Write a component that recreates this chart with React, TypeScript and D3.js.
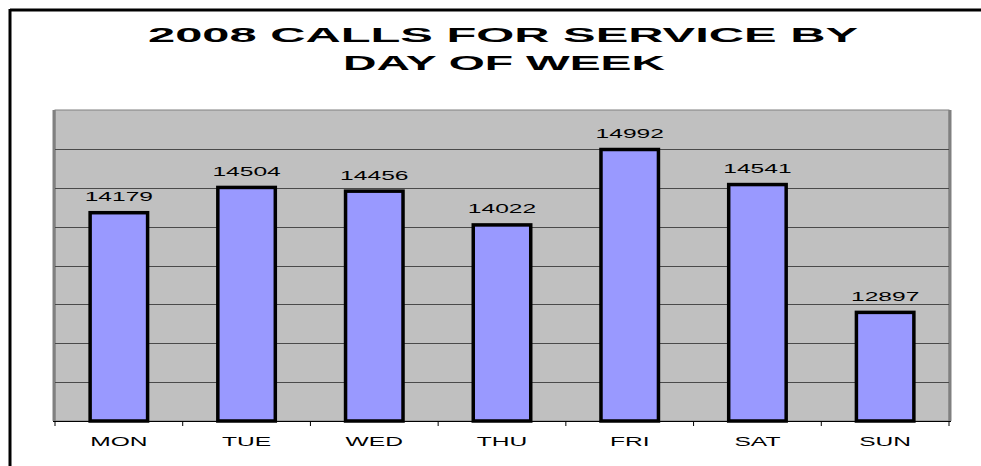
import * as d3 from "d3";

const days = ["MON", "TUE", "WED", "THU", "FRI", "SAT", "SUN"];
const calls = [14179, 14504, 14456, 14022, 14992, 14541, 12897];
const gridTicks = [11500, 12000, 12500, 13000, 13500, 14000, 14500, 15000, 15500];

const W = 981;
const H = 466;
const plot = { left: 55, top: 110, right: 949, bottom: 421 };
// the old export stretches the small labels sideways
const stretch = 2.05;

export default function App() {
  const x = d3
    .scaleBand<string>()
    .domain(days)
    .range([plot.left, plot.right])
    .paddingInner(0.55)
    .paddingOuter(0.275);

  const y = d3.scaleLinear().domain([11500, 15500]).range([plot.bottom, plot.top]);

  const step = x.step();
  const bounds = days.map((d) => (x(d) ?? 0) - (step - x.bandwidth()) / 2);
  bounds.push(plot.right);

  return (
    <svg
      width={W}
      height={H}
      style={{ position: "absolute", left: 0, top: 0, background: "#fff" }}
      fontFamily="'Liberation Sans', Arial, sans-serif"
    >
      {/* outer frame */}
      <line x1={10} y1={10} x2={W} y2={10} stroke="#000" strokeWidth={3} />
      <line x1={10} y1={9} x2={10} y2={H} stroke="#000" strokeWidth={3} />

      {/* title */}
      <text
        x={503}
        y={42}
        textAnchor="middle"
        fontSize={21}
        fontWeight="bold"
        textLength={710}
        lengthAdjust="spacingAndGlyphs"
      >
        2008 CALLS FOR SERVICE BY
      </text>
      <text
        x={504}
        y={70}
        textAnchor="middle"
        fontSize={21}
        fontWeight="bold"
        textLength={322}
        lengthAdjust="spacingAndGlyphs"
      >
        DAY OF WEEK
      </text>

      {/* plot area */}
      <rect
        x={plot.left}
        y={plot.top}
        width={plot.right - plot.left}
        height={plot.bottom - plot.top}
        fill="#c0c0c0"
        stroke="#808080"
        strokeWidth={1}
      />
      <line x1={plot.left - 1} y1={plot.top} x2={plot.left - 1} y2={plot.bottom} stroke="#808080" strokeWidth={3} />
      <line x1={plot.right + 1} y1={plot.top} x2={plot.right + 1} y2={plot.bottom} stroke="#808080" strokeWidth={3} />

      {gridTicks.slice(1, -1).map((t) => (
        <line
          key={t}
          x1={plot.left}
          x2={plot.right}
          y1={Math.round(y(t)) + 0.5}
          y2={Math.round(y(t)) + 0.5}
          stroke="#4a4a4a"
          strokeWidth={1}
        />
      ))}

      {/* bars */}
      {days.map((d, i) => {
        const bx = x(d) ?? 0;
        const by = y(calls[i]);
        const cx = bx + x.bandwidth() / 2;
        return (
          <g key={d}>
            <rect
              x={bx}
              y={by}
              width={x.bandwidth()}
              height={plot.bottom - by}
              fill="#9999ff"
              stroke="#000"
              strokeWidth={3.5}
            />
            <text
              transform={`translate(${cx},${by - 11.5}) scale(${stretch},1)`}
              textAnchor="middle"
              fontSize={12}
              fill="#000"
            >
              {calls[i]}
            </text>
          </g>
        );
      })}

      {/* x axis */}
      <line x1={plot.left - 2} x2={plot.right + 2} y1={plot.bottom + 0.5} y2={plot.bottom + 0.5} stroke="#000" />
      {bounds.map((b, i) => (
        <line key={i} x1={b} x2={b} y1={plot.bottom} y2={plot.bottom + 5} stroke="#000" />
      ))}
      {days.map((d) => (
        <text
          key={d}
          transform={`translate(${(x(d) ?? 0) + x.bandwidth() / 2},446) scale(${stretch},1)`}
          textAnchor="middle"
          fontSize={12}
          fill="#000"
        >
          {d}
        </text>
      ))}
    </svg>
  );
}
